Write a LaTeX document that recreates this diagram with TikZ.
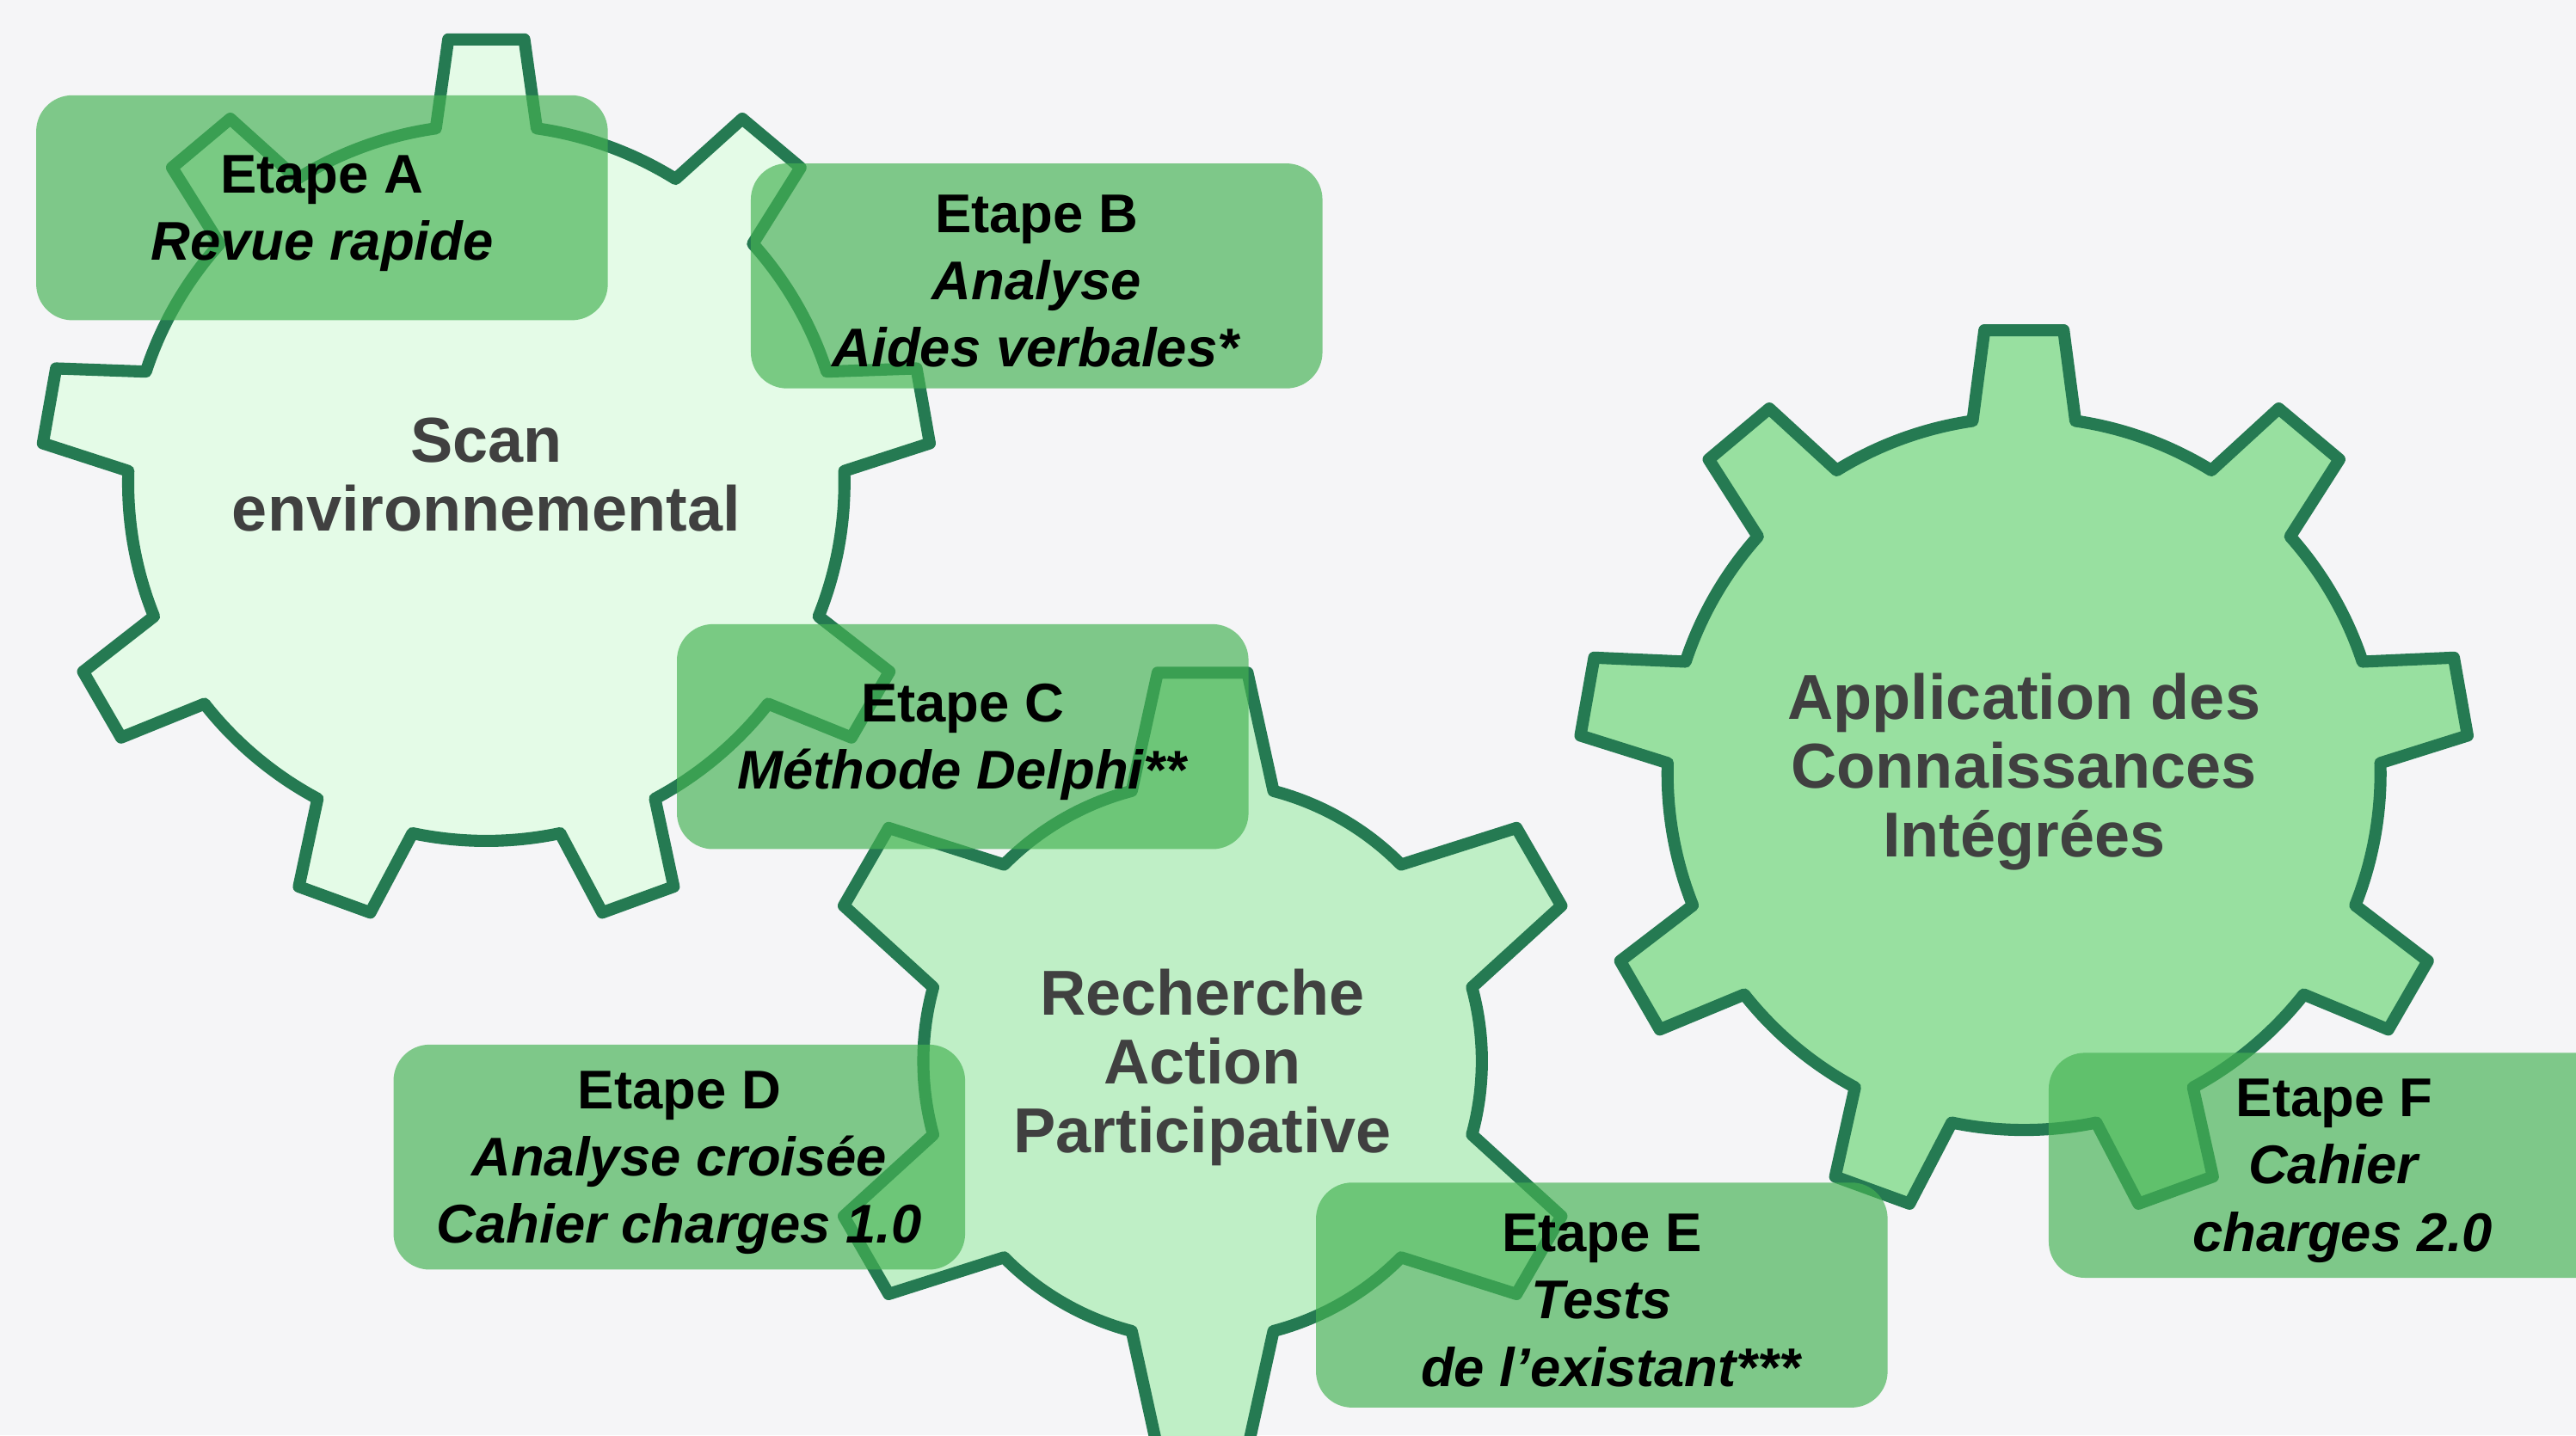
\documentclass[tikz,border=0pt]{standalone}
\usepackage{fontspec}
\setmainfont{Liberation Sans}
\definecolor{bgcol}{HTML}{F5F5F7}
\definecolor{gearedge}{HTML}{257A52}
\definecolor{gearA}{HTML}{E4FBE7}
\definecolor{gearB}{HTML}{BFEFC6}
\definecolor{gearC}{HTML}{98E0A0}
\definecolor{boxgreen}{HTML}{45B253}
\definecolor{geartext}{HTML}{404040}
\begin{document}
\begin{tikzpicture}[x=0.02cm,y=-0.02cm,
  gearline/.style={draw=gearedge, line width=4.2pt, line join=round},
  etapebox/.style={fill=boxgreen, fill opacity=0.67, rounded corners=0.44cm,
    minimum width=6.96cm, minimum height=2.74cm, inner sep=0pt},
  etapetext/.style={inner sep=0pt, align=center, yshift=-1.9pt,
    font=\fontsize{18.9}{23.3}\selectfont\bfseries, text=black},
  gearlabel/.style={align=center, font=\fontsize{22}{23.9}\selectfont\bfseries, text=geartext}]

\clip (0,0) rectangle (1568,874);
\fill[bgcol] (0,0) rectangle (1568,874);

% Gear 1 : Scan environnemental (9 teeth)
\begin{scope}[shift={(296,294)}, y=0.02cm]
\filldraw[gearline, fill=gearA] ({90-8.1}:218)
  \foreach \k in {0,...,8}{
    -- ({90+40*\k-4.9}:271) -- ({90+40*\k+4.9}:271) -- ({90+40*\k+8.1}:218)
    arc[start angle={90+40*\k+8.1}, end angle={90+40*(\k+1)-8.1}, radius=218]
  } -- cycle;
\end{scope}

% Gear 3 : Application des Connaissances Integrees (9 teeth)
\begin{scope}[shift={(1232,471)}, y=0.02cm]
\filldraw[gearline, fill=gearC] ({90-8.3}:217)
  \foreach \k in {0,...,8}{
    -- ({90+40*\k-5.1}:271) -- ({90+40*\k+5.1}:271) -- ({90+40*\k+8.3}:217)
    arc[start angle={90+40*\k+8.3}, end angle={90+40*(\k+1)-8.3}, radius=217]
  } -- cycle;
\end{scope}

% Gear 2 : Recherche Action Participative (6 teeth)
\begin{scope}[shift={(732,646)}, y=0.02cm]
\filldraw[gearline, fill=gearB] ({90-14.7}:170)
  \foreach \k in {0,...,5}{
    -- ({90+60*\k-6.6}:238) -- ({90+60*\k+6.6}:238) -- ({90+60*\k+14.7}:170)
    arc[start angle={90+60*\k+14.7}, end angle={90+60*(\k+1)-14.7}, radius=170]
  } -- cycle;
\end{scope}

% Gear labels
\node[gearlabel] (scan) at (296,289) {Scan\\environnemental};
\node[gearlabel] (rap) at (732,650) {Recherche\\Action\\Participative};
\node[gearlabel] (aci) at (1232,470) {Application des\\Connaissances\\Intégrées};

% Etape boxes
\node[etapebox] (bxa) at (196,126.5) {};
\node[etapebox] (bxb) at (631,168) {};
\node[etapebox] (bxc) at (586,448.5) {};
\node[etapebox] (bxd) at (413.5,704.5) {};
\node[etapebox] (bxe) at (975,788.5) {};
\node[etapebox] (bxf) at (1421,709.5) {};

\node[etapetext] (ea) at (bxa.center) {Etape A\\\textit{Revue rapide}};
\node[etapetext] (eb) at (bxb.center) {Etape B\\\textit{Analyse}\\\textit{Aides verbales*}};
\node[etapetext] (ec) at (bxc.center) {Etape C\\\textit{Méthode Delphi**}};
\node[etapetext] (ed) at (bxd.center) {Etape D\\\textit{Analyse croisée}\\\textit{Cahier charges 1.0}};
\node[etapetext] (ee) at (bxe.center) {Etape E\\\textit{Tests}\\\hspace*{0.24cm}\textit{de l’existant***}};
\node[etapetext] (ef) at (bxf.center) {Etape F\\\textit{Cahier}\\\hspace*{0.2cm}\textit{charges 2.0}};
\end{tikzpicture}
\end{document}
